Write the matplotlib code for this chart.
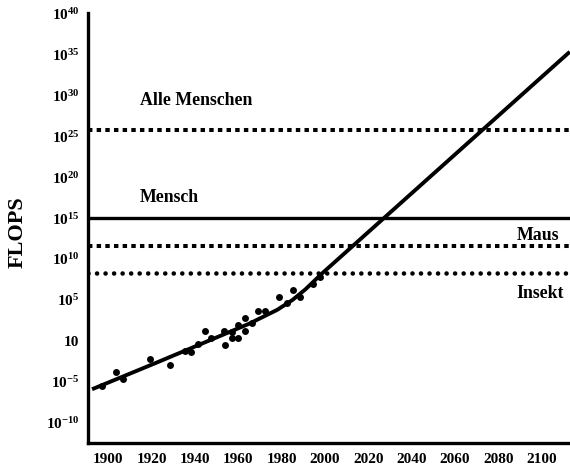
import matplotlib
matplotlib.use("Agg")
import matplotlib.pyplot as plt
import numpy as np

plt.rcParams['font.family'] = ['Liberation Serif', 'DejaVu Serif']
plt.rcParams['font.weight'] = 'bold'
plt.rcParams['mathtext.fontset'] = 'custom'
plt.rcParams['mathtext.rm'] = 'Liberation Serif:bold'
plt.rcParams['mathtext.bf'] = 'Liberation Serif:bold'
plt.rcParams['mathtext.it'] = 'Liberation Serif:bold'

# Data (log10 FLOPS)
point_years = [1897.1, 1903.7, 1906.6, 1919.4, 1928.6, 1935.2, 1938.1, 1941.2, 1944.4,
               1947.5, 1953.6, 1953.9, 1957.0, 1957.0, 1960.0, 1960.0, 1963.1, 1963.1,
               1966.2, 1969.3, 1972.4, 1979.0, 1982.4, 1985.1, 1988.5, 1994.6, 1997.7]
point_log = [-5.5, -3.8, -4.6, -2.2, -3.0, -1.2, -1.4, -0.4, 1.2,
             0.4, 1.2, -0.5, 1.1, 0.3, 2.0, 0.3, 2.8, 1.2,
             2.2, 3.7, 3.7, 5.4, 4.6, 6.2, 5.4, 7.0, 7.8]

trend_years = [1892.5, 1920, 1943, 1965, 1978, 1985, 1991, 1998.5, 2113]
trend_log = [-5.9, -2.9, -0.35, 2.1, 3.8, 5.0, 6.3, 8.2, 35.3]

levels = {"Alle Menschen": 25.8, "Mensch": 15.0, "Maus": 11.6, "Insekt": 8.25}

ytick_exps = [40, 35, 30, 25, 20, 15, 10, 5, 0, -5, -10]
ytick_labels = [r'$10^{40}$', r'$10^{35}$', r'$10^{30}$', r'$10^{25}$', r'$10^{20}$',
                r'$10^{15}$', r'$10^{10}$', r'$10^{5}$', '10', r'$10^{-5}$', r'$10^{-10}$']
xticks = [1900, 1920, 1940, 1960, 1980, 2000, 2020, 2040, 2060, 2080, 2100]

fig = plt.figure(figsize=(5.7, 4.7), dpi=100)
ax = fig.add_axes([0.1539, 0.0568, 0.8461, 0.9149])
ax.set_yscale('log')
ax.set_xlim(1890.5, 2113.1)
ax.set_ylim(10.0**-12.5, 10.0**40)

# horizontal reference lines
ax.axhline(10.0**levels["Alle Menschen"], color='black', lw=2.9, linestyle=(0, (1.1, 1.05)))
ax.axhline(10.0**levels["Mensch"], color='black', lw=2.4)
ax.axhline(10.0**levels["Maus"], color='black', lw=2.9, linestyle=(0, (1.1, 1.05)))
ax.axhline(10.0**levels["Insekt"], color='black', lw=3.3, linestyle=(0, (0.01, 1.85)),
           dash_capstyle='round')

ax.plot(trend_years, 10.0**np.array(trend_log), color='black', lw=2.8, solid_capstyle='butt')
ax.plot(point_years, 10.0**np.array(point_log), 'o', color='black', ms=5, mec='none')

tkw = dict(fontsize=12.8, fontweight='bold', ha='left', va='center')
ax.text(1914.7, 10.0**29.4, "Alle Menschen", **tkw)
ax.text(1914.7, 10.0**17.45, "Mensch", **tkw)
ax.text(2088.3, 10.0**12.9, "Maus", **tkw)
ax.text(2088.3, 10.0**5.85, "Insekt", **tkw)

ax.set_yticks([10.0**e for e in ytick_exps])
ax.set_yticklabels(ytick_labels)
ax.yaxis.set_minor_locator(matplotlib.ticker.NullLocator())
ax.set_xticks(xticks)
ax.set_xticklabels([str(x) for x in xticks])
ax.tick_params(axis='both', length=0, labelsize=11)
ax.tick_params(axis='y', pad=6)
ax.tick_params(axis='x', pad=7)
for lab in ax.get_xticklabels() + ax.get_yticklabels():
    lab.set_fontweight('bold')

for s in ['top', 'right']:
    ax.spines[s].set_visible(False)
for s in ['left', 'bottom']:
    ax.spines[s].set_linewidth(2.4)

fig.text(18/570, 1 - 232/470, "FLOPS", rotation=90, fontsize=16, fontweight='bold',
         ha='center', va='center')

fig.savefig("out.png", dpi=100)
